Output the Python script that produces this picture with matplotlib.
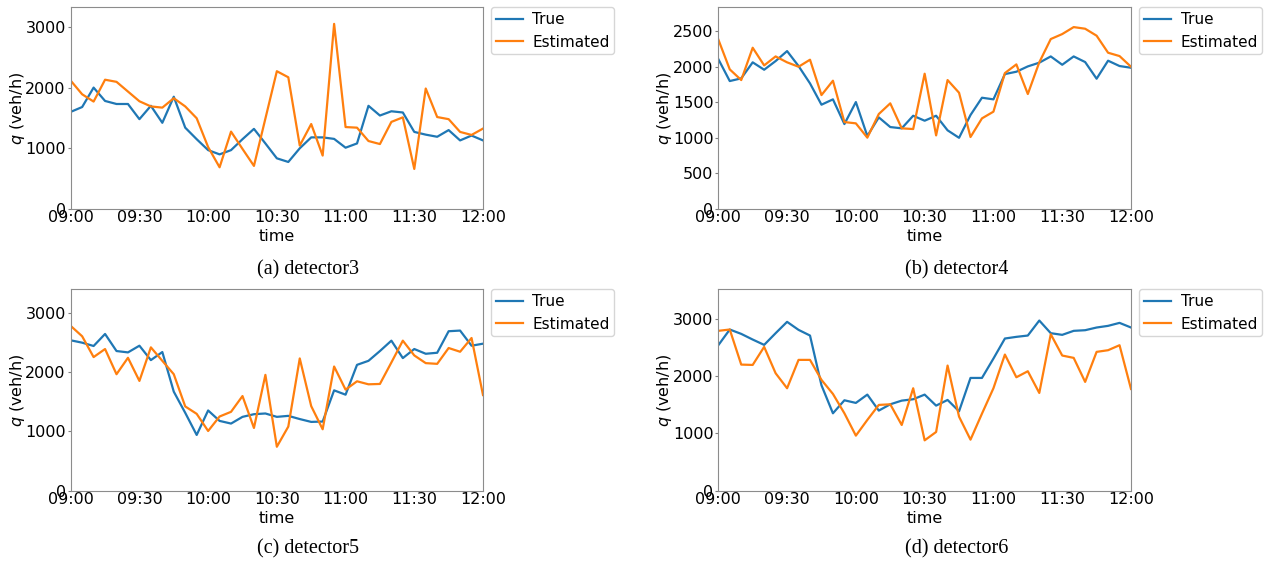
import matplotlib
matplotlib.use('Agg')
import matplotlib.pyplot as plt
import matplotlib.dates as mdates
import pandas as pd

# 5-minute samples, 09:00 - 12:00
times = pd.date_range('2020-01-01 09:00', '2020-01-01 12:00', freq='5min')

det3_true = [1600, 1680, 2000, 1780, 1730, 1730, 1480, 1700, 1420, 1850, 1340, 1150, 970,
             900, 970, 1150, 1320, 1080, 835, 775, 1000, 1180, 1180, 1155, 1010, 1080,
             1700, 1540, 1610, 1590, 1270, 1225, 1190, 1300, 1130, 1210, 1130]
det3_est = [2115, 1890, 1770, 2130, 2095, 1935, 1775, 1690, 1670, 1825, 1690, 1495, 1020,
            687, 1275, 990, 710, 1490, 2270, 2170, 1045, 1400, 880, 3050, 1350, 1340,
            1120, 1070, 1435, 1510, 660, 1985, 1515, 1480, 1270, 1220, 1325]

det4_true = [2106, 1797, 1835, 2060, 1956, 2078, 2218, 2008, 1764, 1465, 1540, 1193, 1502,
             1025, 1287, 1151, 1133, 1310, 1240, 1310, 1105, 1000, 1320, 1563, 1540, 1895,
             1928, 2003, 2055, 2143, 2026, 2143, 2064, 1830, 2083, 2008, 1984]
det4_est = [2382, 1961, 1811, 2265, 2017, 2143, 2060, 1998, 2097, 1600, 1802, 1221, 1203,
            1002, 1334, 1484, 1133, 1123, 1900, 1034, 1811, 1633, 1011, 1273, 1367, 1909,
            2031, 1615, 2060, 2387, 2457, 2555, 2532, 2434, 2195, 2148, 1998]

det5_true = [2536, 2496, 2440, 2643, 2355, 2332, 2445, 2202, 2338, 1670, 1313, 940, 1353,
             1177, 1132, 1245, 1290, 1302, 1245, 1262, 1208, 1160, 1166, 1692, 1619, 2122,
             2190, 2355, 2530, 2236, 2389, 2309, 2326, 2689, 2700, 2445, 2479]
det5_est = [2779, 2604, 2253, 2389, 1964, 2241, 1851, 2417, 2190, 1964, 1421, 1296, 1007,
            1251, 1330, 1596, 1058, 1953, 741, 1081, 2230, 1426, 1036, 2094, 1704, 1845,
            1794, 1800, 2162, 2530, 2281, 2151, 2139, 2406, 2343, 2575, 1613]

det6_true = [2539, 2813, 2737, 2638, 2545, 2749, 2947, 2807, 2708, 1840, 1351, 1578, 1532,
             1677, 1398, 1508, 1572, 1596, 1677, 1485, 1584, 1386, 1968, 1968, 2306, 2656,
             2685, 2708, 2970, 2749, 2720, 2790, 2801, 2848, 2877, 2929, 2848]
det6_est = [2790, 2813, 2201, 2195, 2510, 2050, 1788, 2283, 2283, 1934, 1689, 1351, 961,
            1235, 1497, 1508, 1147, 1788, 879, 1025, 2184, 1293, 891, 1345, 1788, 2376,
            1980, 2085, 1706, 2731, 2359, 2318, 1899, 2423, 2452, 2539, 1776]

captions = ['(a) detector3', '(b) detector4', '(c) detector5', '(d) detector6']
series = [(det3_true, det3_est), (det4_true, det4_est),
          (det5_true, det5_est), (det6_true, det6_est)]
ytops = [3323, 2833, 3396, 3515]
yticks = [[0, 1000, 2000, 3000], list(range(0, 2501, 500)),
          [0, 1000, 2000, 3000], [0, 1000, 2000, 3000]]

W, H = 1264, 570
fig = plt.figure(figsize=(W / 100, H / 100), dpi=100)

# axes boxes in pixels: left, right, top, bottom
boxes = [(70.7, 483, 7.3, 209), (718.3, 1131, 7.3, 209),
         (70.7, 483, 289.3, 490.7), (718.3, 1131, 289.3, 490.7)]
cap_pos = [(308, 270), (957, 270), (308, 549), (957, 549)]

fs = 11.5
for i in range(4):
    l, r, t, b = boxes[i]
    ax = fig.add_axes([l / W, 1 - b / H, (r - l) / W, (b - t) / H])
    tr, est = series[i]
    ax.plot(times, tr, color='#1f77b4', lw=1.6, label='True')
    ax.plot(times, est, color='#ff7f0e', lw=1.6, label='Estimated')
    ax.set_xlim(times[0], times[-1])
    ax.set_ylim(0, ytops[i])
    ax.set_yticks(yticks[i])
    ax.xaxis.set_major_locator(mdates.MinuteLocator(byminute=[0, 30]))
    ax.xaxis.set_major_formatter(mdates.DateFormatter('%H:%M'))
    ax.tick_params(labelsize=fs)
    ax.tick_params(axis='x', length=0, pad=1)
    ax.tick_params(axis='y', length=2, pad=1.5, color='0.5')
    ax.set_xlabel('time', fontsize=fs, labelpad=2.5)
    ax.set_ylabel('$q$ (veh/h)', fontsize=fs, labelpad=-1)
    for s in ax.spines.values():
        s.set_color('0.55')
    ax.legend(loc='upper left', bbox_to_anchor=(1.02, 1.0), borderaxespad=0,
              fontsize=11, handlelength=1.8, handletextpad=0.6, borderpad=0.3)
    cx, cy = cap_pos[i]
    fig.text(cx / W, 1 - cy / H, captions[i], ha='center', va='center',
             fontsize=14.5, family='Liberation Serif')

fig.savefig('out.png', dpi=100)
